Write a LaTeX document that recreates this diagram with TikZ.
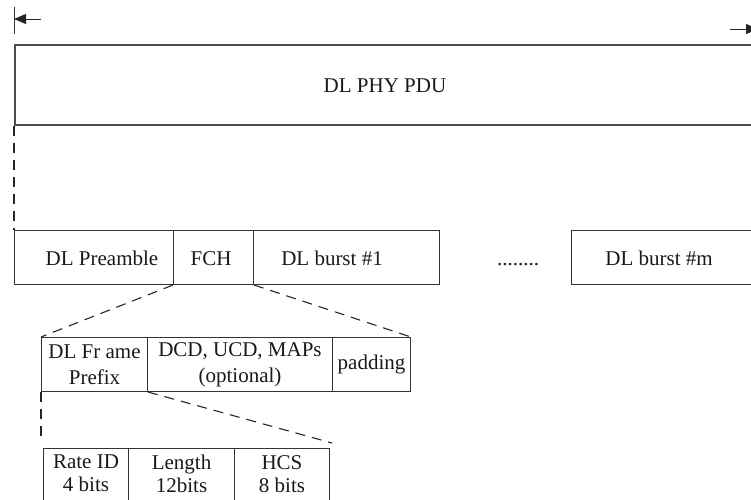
\documentclass[tikz,border=0pt]{standalone}
\usepackage{fontspec}
\setmainfont{Liberation Serif}
\usetikzlibrary{arrows.meta}
\begin{document}
\begin{tikzpicture}[x=1pt,y=-1pt,
  every node/.style={font=\fontsize{21}{26}\selectfont, text=black!90},
  cell/.style={draw=black!80, line width=1pt, minimum height=54pt, inner sep=0pt, anchor=north west, align=center},
  txt/.style={inner sep=0pt, text height=14pt, text depth=0pt},
  bittxt/.style={inner sep=0pt, align=center, anchor=north, font=\fontsize{21}{23}\selectfont},
  zoomline/.style={draw=black!85, line width=1.1pt, dash pattern=on 10pt off 7pt},
  dimarrow/.style={draw=black!85, line width=1pt, -{Triangle[length=12pt,width=10pt]}}]
\useasboundingbox (0,0) rectangle (751,499);
\clip (0,0) rectangle (751,499);

% top dimension arrows
\coordinate (tickTop) at (14,7);
\coordinate (tickBot) at (14,34);
\draw[black!80, line width=1pt] (tickTop) -- (tickBot);
\coordinate (la) at (41,19);
\coordinate (lb) at (14,19);
\draw[dimarrow] (la) -- (lb);
\coordinate (ra) at (730,29);
\coordinate (rb) at (758,29);
\draw[dimarrow] (ra) -- (rb);

% PDU
\node[cell, minimum width=746pt, minimum height=80pt, line width=1.6pt, draw=black!70] (pdu) at (14,44) {};
\node[txt] (pdutext) at (385,85) {DL PHY PDU};

% row 1
\node[cell, minimum width=159pt] (pre) at (14,230) {};
\node[txt] (pretext) at (102,258) {DL Preamble};
\node[cell, minimum width=80pt] (fch) at (173,230) {};
\node[txt] (fchtext) at (211,258) {FCH};
\node[cell, minimum width=186pt] (b1) at (253,230) {};
\node[txt] (b1text) at (332,258) {DL burst \#1};
\node[txt] (dots) at (518,258) {........};
\node[cell, minimum width=189pt] (bm) at (571,230) {};
\node[txt] (bmtext) at (659,258) {DL burst \#m};

% row 2
\node[cell, minimum width=106pt] (dlfp) at (41,337) {DL Fr ame\\Prefix};
\node[cell, minimum width=185pt] (dcd) at (147,337) {DCD, UCD, MAPs\\(optional)};
\node[cell, minimum width=78pt] (pad) at (332,337) {padding};

% row 3
\coordinate (c1) at (41,443);
\coordinate (c2) at (332,443);
\node[cell, minimum width=85pt, minimum height=60pt] (rate) at (43,448) {};
\node[bittxt] (ratetext) at ([yshift=-7pt]rate.north) {Rate ID\\4 bits};
\node[cell, minimum width=106pt, minimum height=60pt] (len) at (128,448) {};
\node[bittxt] (lentext) at ([yshift=-7pt]len.north) {Length\\12bits};
\node[cell, minimum width=95pt, minimum height=60pt] (hcs) at (234,448) {};
\node[bittxt] (hcstext) at ([yshift=-7pt]hcs.north) {HCS\\8 bits};

% dashed expansion lines
\draw[zoomline] (pdu.south west) -- (pre.north west);
\draw[zoomline] (fch.south west) -- (dlfp.north west);
\draw[zoomline] (fch.south east) -- (pad.north east);
\draw[zoomline] (dlfp.south west) -- (c1);
\draw[zoomline] (dlfp.south east) -- (c2);
\end{tikzpicture}
\end{document}
